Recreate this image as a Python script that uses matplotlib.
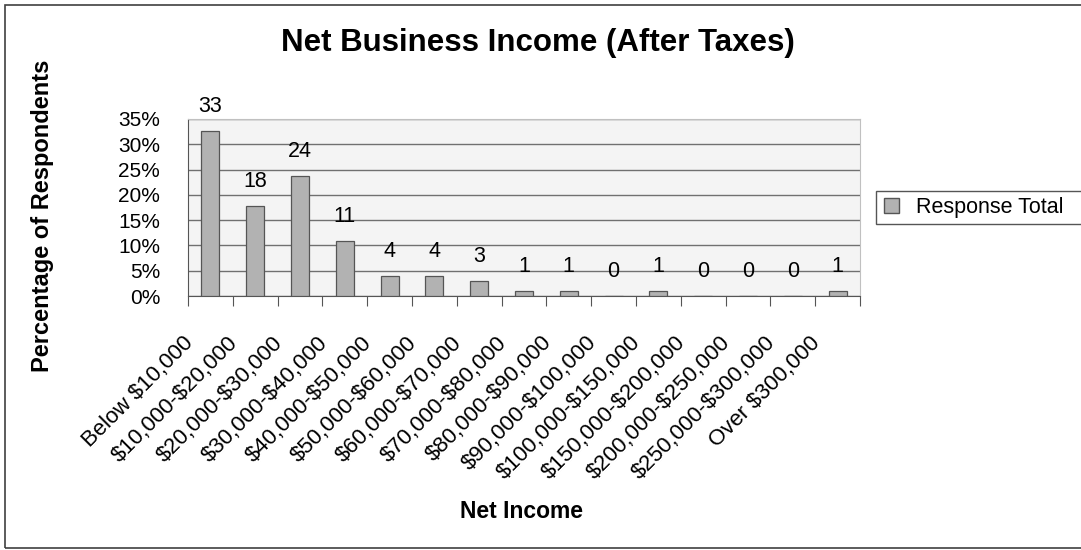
import matplotlib
matplotlib.use('Agg')
import matplotlib.pyplot as plt
from matplotlib.patches import Rectangle, Patch
from matplotlib.ticker import FuncFormatter, FixedLocator
from matplotlib.transforms import ScaledTranslation
import numpy as np

plt.rcParams['font.family'] = ['Liberation Sans', 'DejaVu Sans']
plt.rcParams['text.parse_math'] = False

# data
categories = ['Below $10,000', '$10,000-$20,000', '$20,000-$30,000', '$30,000-$40,000',
              '$40,000-$50,000', '$50,000-$60,000', '$60,000-$70,000', '$70,000-$80,000',
              '$80,000-$90,000', '$90,000-$100,000', '$100,000-$150,000', '$150,000-$200,000',
              '$200,000-$250,000', '$250,000-$300,000', 'Over $300,000']
counts = [33, 18, 24, 11, 4, 4, 3, 1, 1, 0, 1, 0, 0, 0, 1]
y_ticks = [0, 5, 10, 15, 20, 25, 30, 35]

total = sum(counts)
pct = [c / total * 100 for c in counts]
x = np.arange(len(categories))

W, H = 1081, 550
fig = plt.figure(figsize=(W / 100, H / 100), dpi=100)

# outer chart border
fig.patches.append(Rectangle((5 / W, 1 - 548 / H), 1.0, (548 - 5) / H,
                             transform=fig.transFigure, fill=False,
                             edgecolor='#404040', linewidth=1.2, clip_on=False))

ax = fig.add_axes([188 / W, 1 - 296 / H, (860 - 188) / W, (296 - 119) / H])
ax.set_facecolor('#f4f4f4')

bars = ax.bar(x, pct, width=0.4, color='#b2b2b2', edgecolor='#555555', linewidth=0.9,
              zorder=3)

for xi, p, c in zip(x, pct, counts):
    ax.annotate(str(c), (xi, p), xytext=(0, 17.5), textcoords='offset points',
                ha='center', va='center', fontsize=15.5, zorder=4)

ax.set_xlim(-0.5, len(categories) - 0.5)
ax.set_ylim(0, 35)
ax.set_yticks(y_ticks)
ax.yaxis.set_major_formatter(FuncFormatter(lambda v, _: f'{int(v)}%'))
ax.tick_params(axis='y', length=0, labelsize=15, pad=20)
ax.yaxis.grid(True, color='#707070', linewidth=1.0, zorder=1)

# ticks at category boundaries, labels at category centres
ax.xaxis.set_major_locator(FixedLocator(np.arange(len(categories) + 1) - 0.5))
ax.xaxis.set_major_formatter(FuncFormatter(lambda v, _: ''))
ax.xaxis.set_minor_locator(FixedLocator(x))
ax.set_xticklabels(categories, minor=True, rotation=45, ha='right',
                   rotation_mode='anchor', fontsize=16)
ax.tick_params(axis='x', which='major', direction='out', length=7, color='#555555')
ax.tick_params(axis='x', which='minor', length=0, pad=16)
shift = ScaledTranslation(-28 / 100, -14 / 100, fig.dpi_scale_trans)
for lbl in ax.get_xticklabels(minor=True):
    lbl.set_transform(lbl.get_transform() + shift)

for side in ['top', 'right']:
    ax.spines[side].set_color('#c0c0c0')
ax.spines['left'].set_color('#555555')
ax.spines['bottom'].set_color('#555555')

fig.text(538 / W, 1 - 43 / H, 'Net Business Income (After Taxes)', ha='center',
         va='center', fontsize=22.5, fontweight='bold')
fig.text(43 / W, 1 - 216 / H, 'Percentage of Respondents', ha='center', va='center',
         rotation=90, fontsize=17, fontweight='bold')
fig.text(521 / W, 1 - 512 / H, 'Net Income', ha='center', va='center',
         fontsize=16.5, fontweight='bold')

# legend box running off the right edge
fig.patches.append(Rectangle((876 / W, 1 - 224 / H), 0.3, (224 - 191) / H,
                             transform=fig.transFigure, fill=True, facecolor='white',
                             edgecolor='#555555', linewidth=1.0, clip_on=False))
leg = fig.legend([Patch(facecolor='#b2b2b2', edgecolor='#555555')], ['Response Total'],
                 loc='center left', bbox_to_anchor=(884 / W, 1 - 207.5 / H),
                 frameon=False, fontsize=15.5, handlelength=0.7, handleheight=0.7,
                 handletextpad=0.8, borderpad=0, borderaxespad=0)

fig.savefig('out.png', dpi=100)
